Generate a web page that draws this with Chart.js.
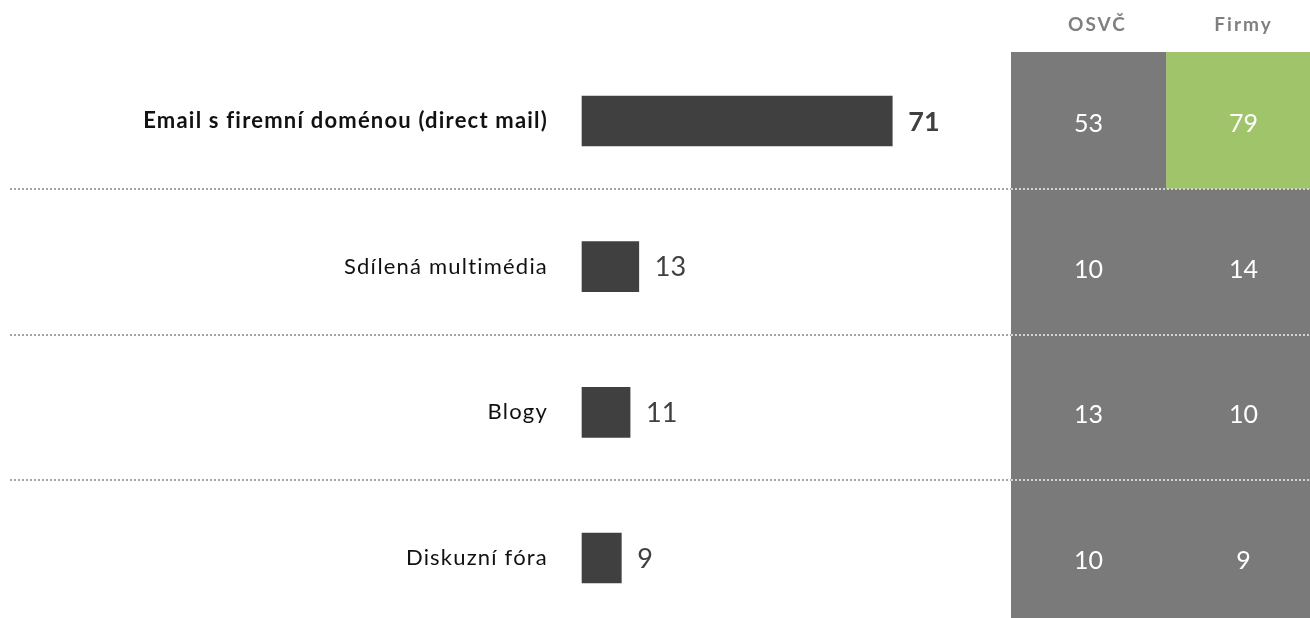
<!DOCTYPE html>
<html lang="cs">
<head>
<meta charset="utf-8">
<script src="https://cdn.jsdelivr.net/npm/chart.js@4.4.1/dist/chart.umd.min.js"></script>
<style>
  html, body { margin: 0; padding: 0; background: #fff; }
  #wrap { width: 1310px; height: 618px; }
</style>
</head>
<body>
<div id="wrap"><canvas id="c" width="1310" height="618"></canvas></div>
<script>
// data
const categories = ['Email s firemní doménou (direct mail)', 'Sdílená multimédia', 'Blogy', 'Diskuzní fóra']
const totals = [71, 13, 11, 9]
const columns = ['OSVČ', 'Firmy']
const osvc = [53, 10, 13, 10]
const firmy = [79, 14, 10, 9]

// vzhled
const FONT = 'Lato, "Open Sans", sans-serif'
const TABLE_LEFT = 1011, COL_W = 155, TABLE_TOP = 52
const LINE_SHIFT = -5 // tečkované čáry lehce nad středem mezi řádky
const HL = { row: 0, col: 1 } // zvýrazněná buňka
const tableCols = [osvc, firmy]

function rowEdges(chart) {
  const y = chart.scales.y
  const c = categories.map((_, i) => y.getPixelForValue(i))
  const edges = [TABLE_TOP]
  for (let i = 0; i < c.length - 1; i++) edges.push((c[i] + c[i + 1]) / 2 + LINE_SHIFT)
  edges.push(chart.height)
  return { c, edges }
}

const tablePlugin = {
  id: 'table',
  beforeDraw(chart) {
    // popisky kategorií mají v předloze širší rozestupy písmen
    try { chart.ctx.letterSpacing = '1.2px' } catch {}
  },
  beforeDatasetsDraw(chart) {
    const ctx = chart.ctx
    const { edges } = rowEdges(chart)
    ctx.save()
    ctx.fillStyle = '#7a7a7a'
    ctx.fillRect(TABLE_LEFT, TABLE_TOP, COL_W * 2, chart.height - TABLE_TOP)
    ctx.fillStyle = '#a0c46a'
    ctx.fillRect(TABLE_LEFT + COL_W * HL.col, edges[HL.row], COL_W, edges[HL.row + 1] - edges[HL.row])

    // hlavička
    ctx.fillStyle = '#7f7f7f'
    ctx.font = 'bold 19px ' + FONT
    ctx.textAlign = 'center'
    ctx.textBaseline = 'middle'
    try { ctx.letterSpacing = '2px' } catch {}
    columns.forEach((t, j) => ctx.fillText(t, TABLE_LEFT + COL_W * j + COL_W / 2 + (j === 0 ? 9 : 0), 25))
    try { ctx.letterSpacing = '0px' } catch {}

    // tečkované čáry
    ctx.lineWidth = 2
    ctx.setLineDash([2, 2])
    edges.slice(1, -1).forEach(yy => {
      const y = Math.round(yy)
      ctx.strokeStyle = '#a6a6a6'
      ctx.beginPath(); ctx.moveTo(10, y); ctx.lineTo(TABLE_LEFT, y); ctx.stroke()
      ctx.strokeStyle = '#d4d4d4'
      ctx.beginPath(); ctx.moveTo(TABLE_LEFT, y); ctx.lineTo(chart.width, y); ctx.stroke()
    })
    ctx.restore()
  },
  afterDatasetsDraw(chart) {
    const ctx = chart.ctx
    const { c } = rowEdges(chart)
    const bars = chart.getDatasetMeta(0).data
    ctx.save()
    try { ctx.letterSpacing = '0px' } catch {}
    ctx.textBaseline = 'middle'
    ctx.fillStyle = '#404040'
    ctx.textAlign = 'left'
    bars.forEach((b, i) => {
      ctx.font = (i === 0 ? 'bold 27px ' : '27px ') + FONT
      ctx.fillText(String(totals[i]), b.x + 16, b.y + 1)
    })
    ctx.fillStyle = '#ffffff'
    ctx.textAlign = 'center'
    ctx.font = '25px ' + FONT
    tableCols.forEach((col, j) => {
      col.forEach((v, i) => ctx.fillText(String(v), TABLE_LEFT + COL_W * j + COL_W / 2, c[i] + 3))
    })
    ctx.restore()
  }
}

new Chart(document.getElementById('c'), {
  type: 'bar',
  data: {
    labels: categories,
    datasets: [{ data: totals, backgroundColor: '#404040', barThickness: 50, clip: false }]
  },
  options: {
    indexAxis: 'y',
    responsive: false,
    animation: false,
    layout: { padding: { top: 121, bottom: 60, left: 0, right: 291 } },
    plugins: { legend: { display: false }, tooltip: { enabled: false } },
    scales: {
      x: { display: false, min: 0, max: 100 },
      y: {
        offset: false,
        grid: { display: false, drawTicks: false },
        border: { display: false },
        afterFit: s => { s.width = 582 },
        ticks: {
          padding: 34,
          color: '#111',
          font: c => ({ family: FONT, size: 22, weight: c.index === 0 ? 'bold' : 'normal' })
        }
      }
    }
  },
  plugins: [tablePlugin]
})
</script>
</body>
</html>
